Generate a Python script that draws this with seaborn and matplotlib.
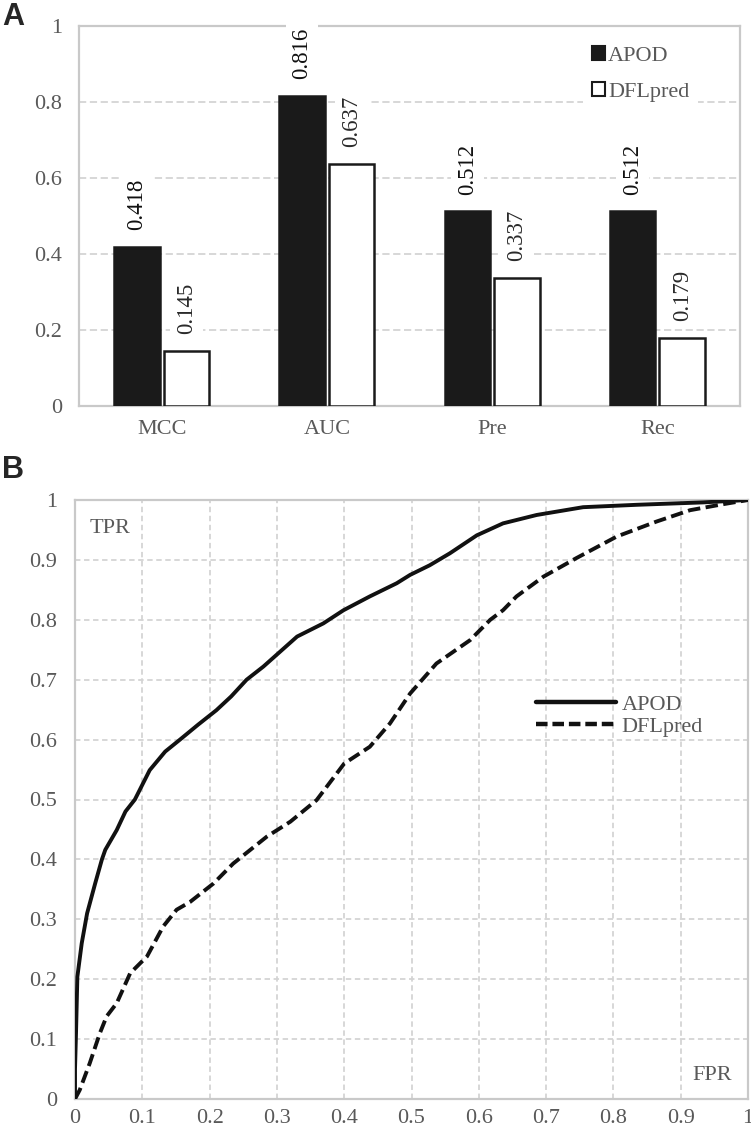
import matplotlib
matplotlib.use('Agg')
import matplotlib.pyplot as plt
from matplotlib.patches import Patch
from matplotlib.lines import Line2D
import seaborn as sns
import pandas as pd

# Panel A data
metrics = ['MCC', 'AUC', 'Pre', 'Rec']
apod_scores = [0.418, 0.816, 0.512, 0.512]
dfl_scores = [0.145, 0.637, 0.337, 0.179]
methods = ['APOD', 'DFLpred']

# Panel B data (ROC curves)
apod_fpr = [0, 0.0, 0.0015, 0.0035, 0.010, 0.018, 0.030, 0.040, 0.045, 0.062, 0.075,
            0.089, 0.111, 0.134, 0.156, 0.183, 0.21, 0.232, 0.255, 0.28, 0.305, 0.33,
            0.369, 0.399, 0.438, 0.478, 0.498, 0.527, 0.557, 0.597, 0.636, 0.686,
            0.755, 0.835, 0.933, 1.0]
apod_tpr = [0, 0.05, 0.11, 0.204, 0.26, 0.31, 0.36, 0.40, 0.416, 0.449, 0.48,
            0.50, 0.549, 0.58, 0.60, 0.625, 0.649, 0.672, 0.70, 0.722, 0.747, 0.772,
            0.794, 0.816, 0.839, 0.861, 0.875, 0.891, 0.911, 0.941, 0.961, 0.975,
            0.988, 0.992, 0.996, 1.0]
dfl_fpr = [0, 0.007, 0.022, 0.037, 0.047, 0.062, 0.082, 0.107, 0.131, 0.151, 0.171,
           0.206, 0.235, 0.285, 0.32, 0.359, 0.40, 0.438, 0.468, 0.498, 0.537, 0.587,
           0.617, 0.636, 0.656, 0.696, 0.745, 0.805, 0.864, 0.914, 0.963, 1.0]
dfl_tpr = [0, 0.015, 0.06, 0.11, 0.138, 0.16, 0.21, 0.238, 0.288, 0.316, 0.329,
           0.36, 0.393, 0.438, 0.463, 0.499, 0.56, 0.588, 0.627, 0.677, 0.727, 0.766,
           0.80, 0.816, 0.839, 0.872, 0.903, 0.939, 0.964, 0.983, 0.993, 1.0]
tick_vals = [0, 0.1, 0.2, 0.3, 0.4, 0.5, 0.6, 0.7, 0.8, 0.9, 1]
tick_text = ['0', '0.1', '0.2', '0.3', '0.4', '0.5', '0.6', '0.7', '0.8', '0.9', '1']

sns.set_theme(style='white')
plt.rcParams['font.family'] = ['Liberation Serif', 'DejaVu Serif']

gray = '#595959'
frame = '#c9c9c9'
gridc = '#d4d4d4'
fs = 16

fig = plt.figure(figsize=(7.51, 11.31), dpi=100)
ax1 = fig.add_axes([79 / 751, 1 - 406 / 1131, 661 / 751, 380 / 1131])
ax2 = fig.add_axes([75 / 751, 1 - 1099 / 1131, 673 / 751, 599 / 1131])

# ---- Panel A: bar chart ----
df = pd.DataFrame({
    'metric': metrics * 2,
    'score': apod_scores + dfl_scores,
    'method': [methods[0]] * 4 + [methods[1]] * 4,
})
sns.barplot(data=df, x='metric', y='score', hue='method', palette=['#1a1a1a', 'white'],
            width=0.6, gap=0.08, edgecolor='#1a1a1a', linewidth=1.8, legend=False,
            ax=ax1, zorder=3)
ax1.set_ylim(0, 1)
ax1.set_yticks([0, 0.2, 0.4, 0.6, 0.8, 1])
ax1.set_yticklabels(['0', '0.2', '0.4', '0.6', '0.8', '1'])
ax1.set_xlabel('')
ax1.set_ylabel('')
ax1.yaxis.grid(True, linestyle=(0, (4, 2)), color=gridc, linewidth=1.3, zorder=0)
ax1.set_axisbelow(True)
ax1.tick_params(axis='both', length=0, labelsize=fs, labelcolor=gray)
ax1.tick_params(axis='y', pad=12)
ax1.tick_params(axis='x', pad=10)
for sp in ax1.spines.values():
    sp.set_color(frame)
    sp.set_linewidth(1.6)

for container, colr in zip(ax1.containers, ['#111111', '#2a2a2a']):
    for bar in container:
        h = bar.get_height()
        ax1.annotate(f'{h:.3f}', (bar.get_x() + bar.get_width() / 2, h),
                     xytext=(0, 12), textcoords='offset points', rotation=90,
                     ha='center', va='bottom', fontsize=16.5, color=colr, zorder=5,
                     annotation_clip=False,
                     bbox=dict(boxstyle='square,pad=0.25', fc='white', ec='none'))

handles = [Patch(facecolor='#1a1a1a', edgecolor='#1a1a1a', linewidth=1.5),
           Patch(facecolor='white', edgecolor='#1a1a1a', linewidth=1.5)]
leg = ax1.legend(handles, methods, loc='upper left', bbox_to_anchor=(0.762, 0.97),
                 frameon=True, facecolor='white', edgecolor='none', framealpha=1,
                 fontsize=fs, handlelength=0.6, handleheight=0.6, handletextpad=0.15,
                 labelspacing=0.7, borderaxespad=0, fancybox=False, borderpad=0.4)
for t in leg.get_texts():
    t.set_color(gray)

# ---- Panel B: ROC curves ----
sns.lineplot(x=apod_fpr, y=apod_tpr, color='#111111', linewidth=2.8, sort=False,
             estimator=None, ax=ax2, zorder=3)
sns.lineplot(x=dfl_fpr, y=dfl_tpr, color='#111111', linewidth=2.8, sort=False,
             estimator=None, ax=ax2, zorder=3)
ax2.lines[-1].set_dashes((3.2, 1.4))
ax2.set_xlim(0, 1)
ax2.set_ylim(0, 1)
ax2.set_xticks(tick_vals)
ax2.set_xticklabels(tick_text)
ax2.set_yticks(tick_vals)
ax2.set_yticklabels(tick_text)
ax2.grid(True, linestyle=(0, (3, 2)), color=gridc, linewidth=1.3, zorder=0)
ax2.set_axisbelow(True)
ax2.tick_params(axis='both', length=0, labelsize=fs, labelcolor=gray)
ax2.tick_params(axis='y', pad=13)
ax2.tick_params(axis='x', pad=7)
for sp in ax2.spines.values():
    sp.set_color(frame)
    sp.set_linewidth(1.6)
ax2.text(0.022, 0.953, 'TPR', transform=ax2.transAxes, fontsize=fs, color=gray,
         ha='left', va='center')
ax2.text(0.976, 0.04, 'FPR', transform=ax2.transAxes, fontsize=fs, color=gray,
         ha='right', va='center')

lh = [Line2D([], [], color='#111111', linewidth=3.2),
      Line2D([], [], color='#111111', linewidth=3.2, dashes=(2.6, 1.1))]
leg2 = ax2.legend(lh, methods, loc='upper left', bbox_to_anchor=(0.685, 0.675),
                  frameon=False, fontsize=fs, handlelength=3.6, handletextpad=0.25,
                  labelspacing=0.05, borderaxespad=0, borderpad=0)
for t in leg2.get_texts():
    t.set_color(gray)

# panel letters
fig.text(0.003, 0.998, 'A', fontsize=22, fontweight='bold', family='Liberation Sans',
         ha='left', va='top')
fig.text(0.003, 0.598, 'B', fontsize=22, fontweight='bold', family='Liberation Sans',
         ha='left', va='top')

fig.savefig('out.png', dpi=100)
plt.close(fig)
